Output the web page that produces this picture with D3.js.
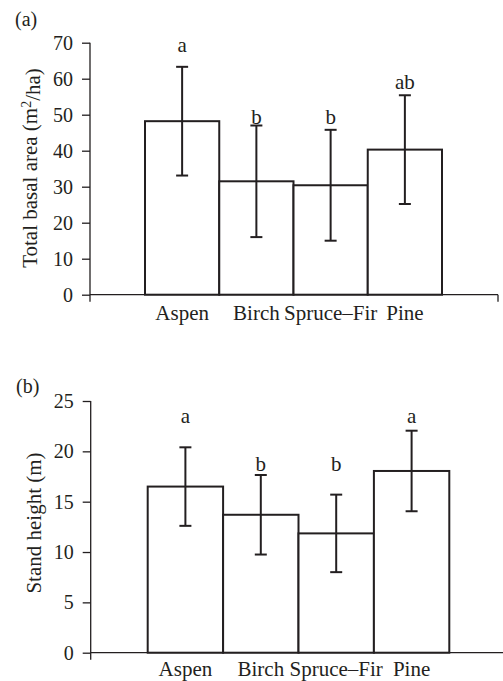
<!DOCTYPE html>
<html>
<head>
  <meta charset="utf-8">
  <title>Basal area and stand height by forest type</title>
  <script src="https://d3js.org/d3.v7.min.js"></script>
  <style>
    body { margin: 0; background: #fff; }
    text { font-family: "Liberation Serif", "Times New Roman", serif; fill: #231f20; }
  </style>
</head>
<body>
  <div id="chart"></div>
  <script>
    // Forest types
    var categories = ["Aspen", "Birch", "Spruce\u2013Fir", "Pine"];

    // (a) total basal area, m2/ha
    var basalMean = [48.2, 31.5, 30.4, 40.3];
    var basalErr = [15.1, 15.5, 15.4, 15.1];
    var basalLetters = ["a", "b", "b", "ab"];
    var basalLetterAt = [67.5, 47.5, 47.5, 57.1];
    var basalTicks = [0, 10, 20, 30, 40, 50, 60, 70];

    // (b) stand height, m
    var heightMean = [16.5, 13.7, 11.85, 18.05];
    var heightErr = [3.9, 3.95, 3.85, 4.0];
    var heightLetters = ["a", "b", "b", "a"];
    var heightLetterAt = [22.8, 18.0, 18.0, 22.8];
    var heightTicks = [0, 5, 10, 15, 20, 25];

    var svg = d3.select("#chart")
      .append("svg")
      .attr("width", 503)
      .attr("height", 681);

    var ink = "#231f20";

    function drawPanel(p) {
      var g = svg.append("g");

      var x = d3.scaleBand()
        .domain(categories)
        .range(p.barRange)
        .padding(0);

      var y = d3.scaleLinear()
        .domain([0, p.ticks[p.ticks.length - 1]])
        .range(p.yRange);

      // y axis ticks + labels
      var yAxis = g.append("g")
        .attr("transform", "translate(" + p.axisX + ",0)")
        .call(d3.axisLeft(y).tickValues(p.ticks).tickSize(8).tickPadding(9).tickFormat(d3.format("d")));
      yAxis.select(".domain").remove();
      yAxis.selectAll("line").attr("stroke", ink).attr("stroke-width", 1.3);
      yAxis.selectAll("text").style("font-size", "20px").style("font-family", "Liberation Serif").attr("fill", ink);

      // axis lines
      g.append("line")
        .attr("x1", p.axisX).attr("x2", p.axisX)
        .attr("y1", y(p.ticks[p.ticks.length - 1])).attr("y2", y(0) + 7)
        .attr("stroke", ink).attr("stroke-width", 1.3);
      g.append("line")
        .attr("x1", p.axisX).attr("x2", p.axisEnd)
        .attr("y1", y(0)).attr("y2", y(0))
        .attr("stroke", ink).attr("stroke-width", 1.3);
      if (p.endTick) {
        g.append("line")
          .attr("x1", p.axisEnd).attr("x2", p.axisEnd)
          .attr("y1", y(0)).attr("y2", y(0) + 7)
          .attr("stroke", ink).attr("stroke-width", 1.3);
      }

      // category labels
      var xAxis = g.append("g")
        .attr("transform", "translate(0," + y(0) + ")")
        .call(d3.axisBottom(x).tickSize(0).tickPadding(p.labelPad));
      xAxis.select(".domain").remove();
      xAxis.selectAll("text").style("font-size", "21px").style("font-family", "Liberation Serif").attr("fill", ink);

      // bars
      g.selectAll(".bar")
        .data(p.mean)
        .enter()
        .append("rect")
        .attr("class", "bar")
        .attr("x", function(d, i) { return x(categories[i]); })
        .attr("y", function(d) { return y(d); })
        .attr("width", x.bandwidth())
        .attr("height", function(d) { return y(0) - y(d); })
        .attr("fill", "#fff")
        .attr("stroke", ink)
        .attr("stroke-width", 2);

      // error bars
      var cx = function(i) { return x(categories[i]) + x.bandwidth() / 2; };
      p.mean.forEach(function(m, i) {
        var lo = y(m - p.err[i]), hi = y(m + p.err[i]);
        g.append("line")
          .attr("x1", cx(i)).attr("x2", cx(i))
          .attr("y1", hi).attr("y2", lo)
          .attr("stroke", ink).attr("stroke-width", 2);
        [hi, lo].forEach(function(yy) {
          g.append("line")
            .attr("x1", cx(i) - 6).attr("x2", cx(i) + 6)
            .attr("y1", yy).attr("y2", yy)
            .attr("stroke", ink).attr("stroke-width", 2);
        });
      });

      // significance letters
      g.selectAll(".letter")
        .data(p.letters)
        .enter()
        .append("text")
        .attr("class", "letter")
        .attr("x", function(d, i) { return cx(i); })
        .attr("y", function(d, i) { return y(p.letterAt[i]); })
        .attr("text-anchor", "middle")
        .style("font-size", "21px")
        .text(function(d) { return d; });

      // panel tag
      g.append("text")
        .attr("x", p.tagX)
        .attr("y", p.tagY)
        .style("font-size", "20px")
        .text(p.tag);

      // y label
      var lbl = g.append("text")
        .attr("transform", "translate(" + p.labelX + "," + p.labelY + ") rotate(-90)")
        .attr("text-anchor", "middle")
        .style("font-size", "21px");
      return lbl;
    }

    var la = drawPanel({
      mean: basalMean, err: basalErr, letters: basalLetters, letterAt: basalLetterAt,
      ticks: basalTicks, barRange: [145, 442], yRange: [294.7, 42.7],
      axisX: 90, axisEnd: 498, endTick: true, labelPad: 10.5,
      tag: "(a)", tagX: 15, tagY: 26, labelX: 37, labelY: 168
    });
    la.append("tspan").text("Total basal area (m");
    la.append("tspan").attr("dy", "-0.45em").style("font-size", "14px").text("2");
    la.append("tspan").attr("dy", "0.45em").text("/ha)");

    var lb = drawPanel({
      mean: heightMean, err: heightErr, letters: heightLetters, letterAt: heightLetterAt,
      ticks: heightTicks, barRange: [147.7, 449.3], yRange: [652.7, 401],
      axisX: 90.7, axisEnd: 503, endTick: false, labelPad: 8,
      tag: "(b)", tagX: 16, tagY: 393, labelX: 41, labelY: 523
    });
    lb.text("Stand height (m)");
  </script>
</body>
</html>
